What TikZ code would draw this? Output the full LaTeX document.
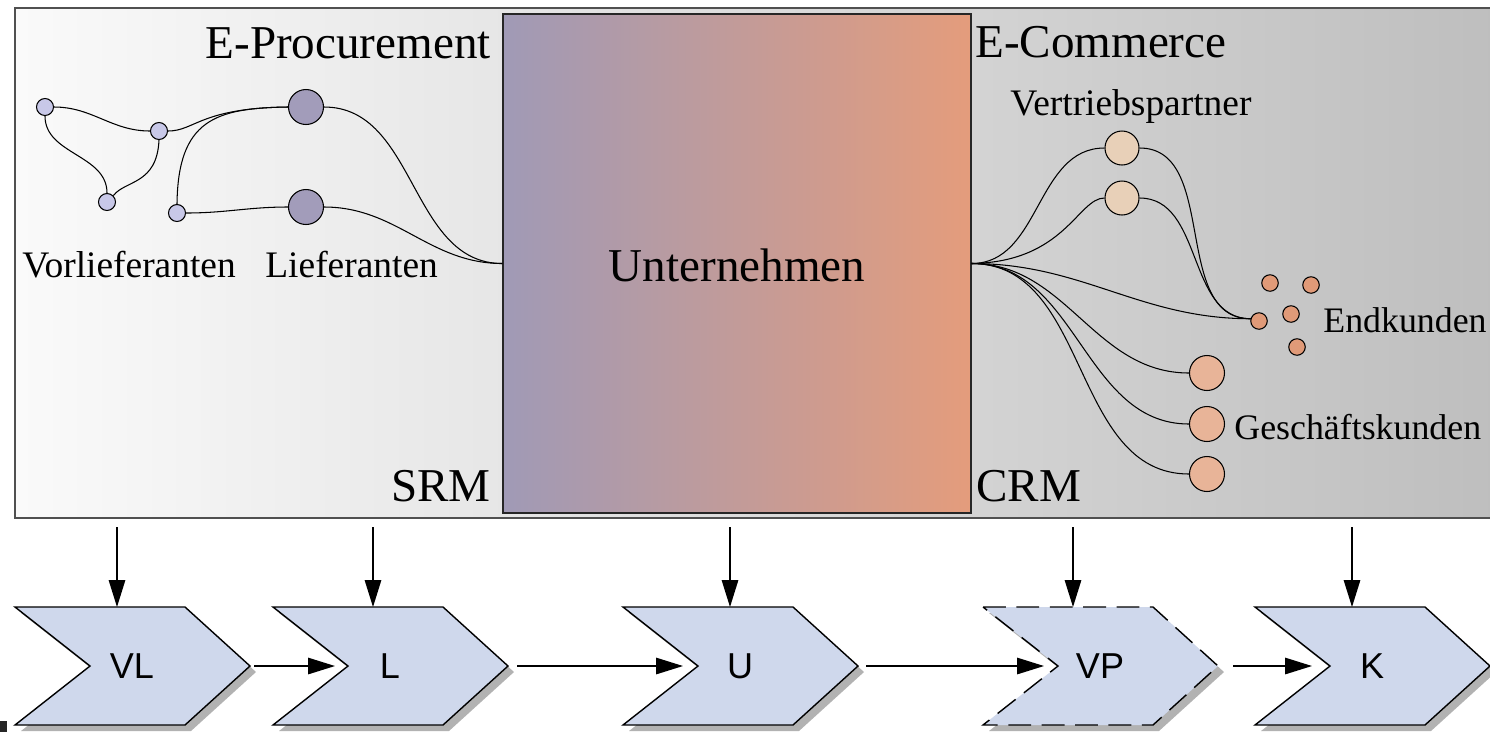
\documentclass[tikz,border=0pt]{standalone}
\usepackage{fontspec}
\setmainfont{Liberation Serif}
\newfontfamily\chevfont{Liberation Sans}
\usetikzlibrary{arrows.meta}

\definecolor{lilac}{RGB}{200,200,232}
\definecolor{supplier}{RGB}{162,156,186}
\definecolor{partner}{RGB}{232,208,184}
\definecolor{endcust}{RGB}{224,154,120}
\definecolor{bizcust}{RGB}{232,180,152}
\definecolor{boxleft}{RGB}{160,154,182}
\definecolor{boxright}{RGB}{228,156,124}
\definecolor{chevfill}{RGB}{207,216,236}
\definecolor{chevshade}{RGB}{178,178,178}
\definecolor{framegray}{RGB}{80,80,80}
\definecolor{bgleft}{RGB}{250,250,250}
\definecolor{bgright}{RGB}{190,190,190}

% one process step: name, left x, label, x of the incoming arrow, extra style
\newcommand\processstep[5]{%
  \fill[chevshade] (#2+6,613) -- ++(170,0) -- ++(65,59) -- ++(-65,59) -- ++(-170,0) -- ++(75,-59) -- cycle;
  \draw[chev,#5] (#2,607) -- ++(170,0) -- ++(65,59) -- ++(-65,59) -- ++(-170,0) -- ++(75,-59) -- cycle;
  \node[chevtext] (#1) at (#2+117,666) {#3};
  \coordinate (#1-tip) at (#2+235,666);
  \coordinate (#1-notch) at (#2+75,666);
  \coordinate (#1-top) at (#4,607);
  \coordinate (#1-in) at (#4,527);
}

\begin{document}
\begin{tikzpicture}[x=0.2mm,y=-0.2mm,
  dot/.style={circle,draw=black,line width=0.6pt,inner sep=0pt},
  smalldot/.style={dot,minimum size=3.4mm,fill=lilac},
  supdot/.style={dot,minimum size=7mm,fill=supplier},
  partdot/.style={dot,minimum size=6.8mm,fill=partner},
  enddot/.style={dot,minimum size=3.3mm,fill=endcust},
  bizdot/.style={dot,minimum size=7mm,fill=bizcust},
  link/.style={draw=black,line width=0.6pt},
  biglabel/.style={inner sep=0pt,font=\fontsize{26.8}{30}\selectfont},
  smalllabel/.style={inner sep=0pt,font=\fontsize{21.3}{25}\selectfont},
  edgelabel/.style={inner sep=0pt,font=\fontsize{20.4}{24}\selectfont},
  chev/.style={draw=black,line width=0.8pt,fill=chevfill,line join=miter},
  chevtext/.style={inner sep=0pt,font=\chevfont\fontsize{20.5}{24}\selectfont},
  flow/.style={draw=black,line width=0.8pt,-{Triangle[length=5.4mm,width=3.3mm]}}
]
\useasboundingbox (0,0) rectangle (1490,732);

% outer panel
\shade[left color=bgleft,right color=bgright] (15,8) rectangle (1500,518);
\draw[framegray,line width=1.1pt] (1500,8) -- (15,8) -- (15,518) -- (1500,518);

% company block
\node[draw=black!85,line width=0.8pt,left color=boxleft,right color=boxright,
      minimum width=93.6mm,minimum height=99.8mm,inner sep=0pt] (U) at (737,263.5) {};
\node[biglabel,anchor=base] (Ulabel) at (737,281) {Unternehmen};

% headings
\node[biglabel,anchor=base east] (proc) at (491,58) {E-Procurement};
\node[biglabel,anchor=base east] (srm) at (491,501) {SRM};
\node[biglabel,anchor=base west] (comm) at (975,57) {E-Commerce};
\node[biglabel,anchor=base west] (crm) at (976,501) {CRM};

% supply side
\node[smalldot] (A1) at (45,107) {};
\node[smalldot] (A2) at (159,131) {};
\node[smalldot] (A3) at (107,202) {};
\node[smalldot] (A4) at (177,213) {};
\node[supdot] (L1) at (306,107) {};
\node[supdot] (L2) at (306,207) {};

\draw[link] (A1.east) to[out=0,in=180] (A2.west);
\draw[link] (A1.south) to[out=-90,in=90] (A3.north);
\draw[link] (A3.north east) .. controls (125,180) and (157,185) .. (A2.south);
\draw[link] (A2.east) .. controls (195,131) and (200,108) .. (L1.west);
\draw[link] (A4.north) .. controls (178,120) and (215,108) .. (L1.west);
\draw[link] (A4.east) to[out=0,in=180] (L2.west);
\draw[link] (L1.east) to[out=0,in=180] (U.west);
\draw[link] (L2.east) to[out=0,in=180] (U.west);

\node[smalllabel,anchor=base west] (vorl) at (22,277) {Vorlieferanten};
\node[smalllabel,anchor=base west] (lief) at (265,277) {Lieferanten};

% sales side
\node[partdot] (V1) at (1122,148) {};
\node[partdot] (V2) at (1122,198) {};
\node[enddot] (E1) at (1270,283) {};
\node[enddot] (E2) at (1311,285) {};
\node[enddot] (E3) at (1291,314) {};
\node[enddot] (E4) at (1259,321) {};
\node[enddot] (E5) at (1297,347) {};
\node[bizdot] (G1) at (1207,373) {};
\node[bizdot] (G2) at (1207,424) {};
\node[bizdot] (G3) at (1207,474) {};

\draw[link] (U.east) to[out=0,in=180] (V1.west);
\draw[link] (U.east) .. controls (1065,262) and (1078,198) .. (V2.west);
\draw[link] (V1.east) to[out=0,in=180] (E4.165);
\draw[link] (V2.east) to[out=0,in=180] (E4.165);
\draw[link] (U.east) to[out=0,in=180] (E4.165);
\draw[link] (U.east) to[out=0,in=180] (G1.west);
\draw[link] (U.east) to[out=0,in=180] (G2.west);
\draw[link] (U.east) to[out=0,in=180] (G3.west);

\node[smalllabel,anchor=base west] (vp) at (1010,115) {Vertriebspartner};
\node[edgelabel,anchor=base west] (ek) at (1323,332) {Endkunden};
\node[edgelabel,anchor=base west] (gk) at (1234,439) {Geschäftskunden};

% value chain
\processstep{VL}{15}{VL}{117}{}
\processstep{L}{273}{L}{373}{}
\processstep{UC}{623}{U}{730}{}
\processstep{VP}{983}{VP}{1073}{dash pattern=on 13pt off 6pt}
\processstep{K}{1255}{K}{1352}{}

\foreach \s in {VL,L,UC,VP,K}
  \draw[flow] (\s-in) -- (\s-top);

\draw[flow,shorten <=0.8mm,shorten >=2.6mm] (VL-tip) -- (L-notch);
\draw[flow,shorten <=1.8mm,shorten >=3mm] (L-tip) -- (UC-notch);
\draw[flow,shorten <=1.6mm,shorten >=2.8mm] (UC-tip) -- (VP-notch);
\draw[flow,shorten <=3mm,shorten >=3.6mm] (VP-tip) -- (K-notch);

% corner mark
\fill[black!85] (0,721) rectangle (7,732);
\end{tikzpicture}
\end{document}
